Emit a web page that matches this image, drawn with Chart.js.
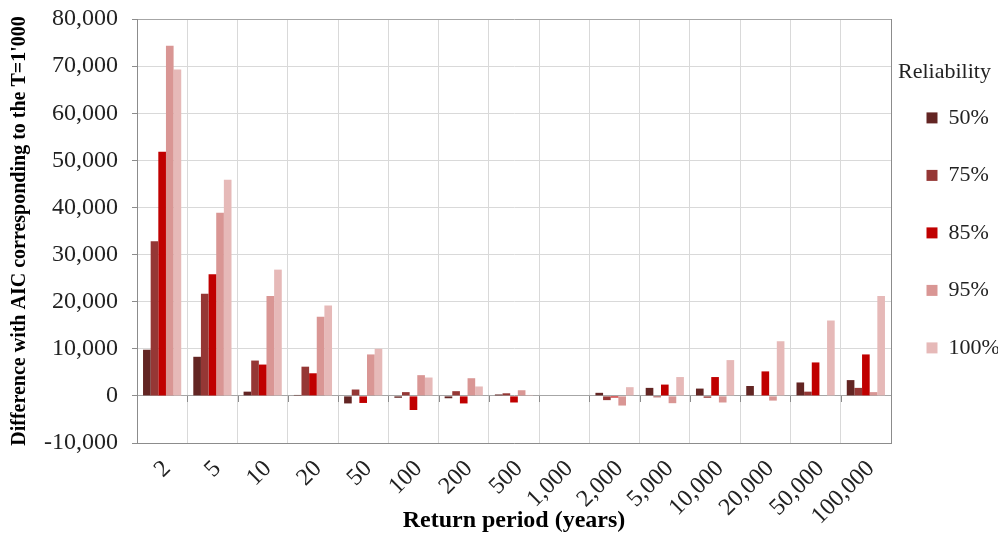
<!DOCTYPE html>
<html>
<head>
<meta charset="utf-8">
<script src="https://cdn.jsdelivr.net/npm/chart.js"></script>
<style>
body { margin: 0; background: #fff; }
#wrap { width: 998px; height: 538px; }
</style>
</head>
<body>
<div id="wrap"><canvas id="chart"></canvas></div>
<script>
// Return periods (years) on the x axis
const returnPeriods = ['2', '5', '10', '20', '50', '100', '200', '500', '1,000', '2,000', '5,000', '10,000', '20,000', '50,000', '100,000'];

// Difference with AIC, one array per reliability level
const rel50 = [9800, 8300, 900, 200, -1600, -400, -500, 300, 0, 650, 1700, 1550, 2100, 2850, 3350];
const rel75 = [32800, 21700, 7500, 6200, 1350, 800, 1000, 550, 0, -900, -300, -400, 0, 900, 1700];
const rel85 = [51800, 25800, 6650, 4800, -1500, -3000, -1600, -1400, 0, -350, 2400, 4000, 5200, 7100, 8800];
const rel95 = [74300, 38900, 21200, 16800, 8800, 4400, 3750, 1200, 0, -2050, -1550, -1400, -1000, 0, 800];
const rel100 = [69300, 45900, 26800, 19200, 10000, 3900, 2000, 200, 0, 1850, 4000, 7600, 11600, 16000, 21200];

const serif = "'Liberation Serif', 'Times New Roman', serif";
const lightGrid = '#d9d9d9';
const darkLine = '#8c8c8c';

// small tick marks under the zero line, Excel style
const zeroTicks = {
    id: 'zeroTicks',
    afterDatasetsDraw(chart) {
        const { ctx, scales: { x, y } } = chart;
        const y0 = Math.round(y.getPixelForValue(0));
        ctx.save();
        ctx.strokeStyle = darkLine;
        ctx.lineWidth = 1;
        ctx.beginPath();
        for (let i = 0; i <= returnPeriods.length; i++) {
            const px = Math.round(x.getPixelForValue(i - 0.5)) + 0.5;
            ctx.moveTo(px, y0);
            ctx.lineTo(px, y0 + 6);
        }
        ctx.stroke();
        ctx.restore();
    }
};

new Chart(document.getElementById('chart'), {
    type: 'bar',
    data: {
        labels: returnPeriods,
        datasets: [
            { label: '50%', data: rel50, backgroundColor: '#632523' },
            { label: '75%', data: rel75, backgroundColor: '#953735' },
            { label: '85%', data: rel85, backgroundColor: '#c00000' },
            { label: '95%', data: rel95, backgroundColor: '#d99694' },
            { label: '100%', data: rel100, backgroundColor: '#e6b9b8' }
        ]
    },
    options: {
        responsive: true,
        maintainAspectRatio: false,
        animation: false,
        layout: { padding: { top: 19, left: 0, right: 0, bottom: 0 } },
        datasets: {
            bar: { categoryPercentage: 0.76, barPercentage: 1.0, borderWidth: 0 }
        },
        plugins: {
            tooltip: { enabled: false },
            legend: {
                position: 'right',
                align: 'start',
                maxWidth: 107,
                title: {
                    display: true,
                    text: 'Reliability',
                    color: '#222',
                    font: { family: serif, size: 22 },
                    padding: { top: 42, bottom: -16 }
                },
                labels: {
                    boxWidth: 11,
                    boxHeight: 11,
                    padding: 35.5,
                    color: '#222',
                    font: { family: serif, size: 22 }
                }
            }
        },
        scales: {
            x: {
                ticks: {
                    autoSkip: false,
                    minRotation: 45,
                    maxRotation: 45,
                    padding: 12,
                    labelOffset: 5,
                    color: '#222',
                    font: { family: serif, size: 24 }
                },
                grid: {
                    color: c => c.tick ? lightGrid : darkLine,
                    drawTicks: false
                },
                border: { color: darkLine },
                title: {
                    display: true,
                    text: 'Return period (years)',
                    color: '#000',
                    font: { family: serif, size: 24, weight: 'bold' },
                    padding: { top: 0, bottom: 3 }
                },
                afterFit(scale) { scale.height = 95; }
            },
            y: {
                min: -10000,
                max: 80000,
                ticks: {
                    stepSize: 10000,
                    padding: 14,
                    color: '#222',
                    font: { family: serif, size: 24 }
                },
                grid: {
                    color: c => (c.tick && (c.tick.value === 0 || c.tick.value === 80000)) ? '#a6a6a6' : lightGrid,
                    tickColor: darkLine,
                    tickLength: 5
                },
                border: { color: darkLine },
                title: {
                    display: true,
                    text: "Difference with AIC corresponding to the T=1'000",
                    color: '#000',
                    font: { family: serif, size: 20, weight: 'bold' },
                    padding: { top: 8, bottom: 0 }
                },
                afterFit(scale) {
                    scale.width = 137;
                    scale.paddingTop = 8;
                    scale.paddingBottom = 8;
                }
            }
        }
    },
    plugins: [zeroTicks]
});
</script>
</body>
</html>
